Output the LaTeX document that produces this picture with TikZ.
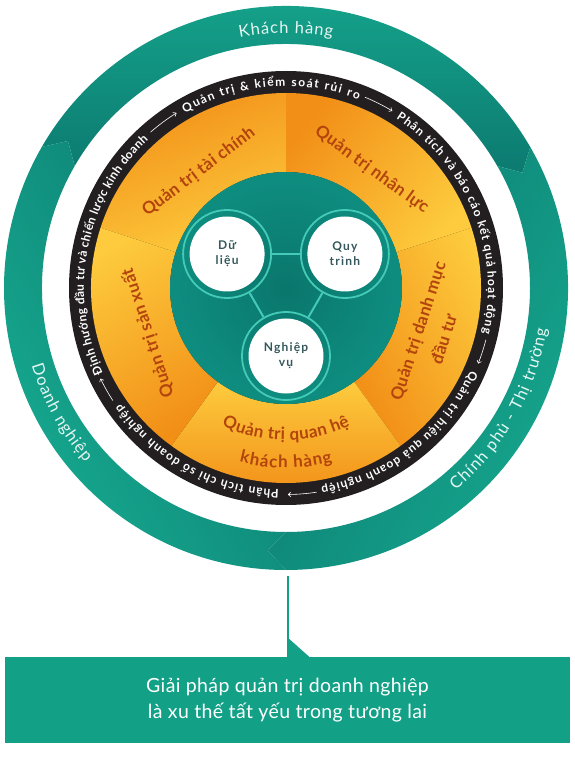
\documentclass[tikz,border=0pt]{standalone}
\usepackage{fontspec}
\setmainfont{Lato}
\usetikzlibrary{decorations.text,arrows.meta}
\definecolor{tealL}{HTML}{16A98F}
\definecolor{tealD}{HTML}{0C7A70}
\definecolor{ringBlack}{HTML}{231F20}
\definecolor{orD}{HTML}{F28F17}
\definecolor{orL}{HTML}{FDCB3D}
\definecolor{secText}{HTML}{B3440E}
\definecolor{diskC}{HTML}{0A766C}
\definecolor{diskM}{HTML}{0E8B7E}
\definecolor{diskE}{HTML}{13A08D}
\definecolor{circLine}{HTML}{44CAB7}
\definecolor{circText}{HTML}{34585B}
\definecolor{boxTeal}{HTML}{12A086}
\definecolor{ringText}{HTML}{E4F6F2}
\pgfdeclareradialshading{diskshade}{\pgfpoint{0bp}{0bp}}{color(0bp)=(diskC); color(22bp)=(diskM); color(50bp)=(diskE)}
\begin{document}
\begin{tikzpicture}[x=1pt,y=1pt,
  outerlbl/.style={decorate,decoration={text along path,text align=fit to path,
     text={|\fontsize{16.5}{16.5}\selectfont\color{ringText}|#1}}},
  blacklbl/.style={decorate,decoration={text along path,text align=fit to path,
     text={|\fontsize{12}{12}\selectfont\bfseries\color{white}|#1}}},
  seclbl/.style={decorate,decoration={text along path,text align=fit to path,
     text={|\fontsize{17}{17}\selectfont\bfseries\color{secText}|#1}}},
  secnode/.style={text=secText,font=\fontsize{17}{27}\selectfont\bfseries\addfontfeature{LetterSpace=2},align=center,inner sep=0pt},
  ringarrow/.style={draw=white,line width=0.6pt,-{Straight Barb[length=2.6pt,width=4.6pt]}},
  outring/.style={circle,draw=circLine,line width=1.8pt,minimum size=88pt,inner sep=0pt},
  whitecirc/.style={circle,fill=white,minimum size=75pt,inner sep=0pt,text=circText,font=\fontsize{12}{15}\selectfont\bfseries\addfontfeature{LetterSpace=10},align=center},
  conn/.style={draw=circLine,line width=2pt},
  boxstyle/.style={fill=boxTeal,minimum width=565pt,minimum height=86pt,text=white,font=\fontsize{19.5}{26}\selectfont\addfontfeature{LetterSpace=2},align=center,inner sep=0pt},
  stem/.style={draw=boxTeal,line width=2pt}
]
\useasboundingbox (-286,-469) rectangle (289,288);
\fill[white] (-286,-469) rectangle (289,288);

% ---- outer teal ring: three arrow segments ----
\shade[left color=tealL,right color=tealD,shading angle=0]
 (150:282) arc[start angle=150,end angle=30,radius=282] -- (26:263) -- (30:244)
 arc[start angle=30,end angle=150,radius=244] -- (146:263) -- cycle;
\shade[left color=tealL,right color=tealD,shading angle=242]
 (30:282) arc[start angle=30,end angle=-90,radius=282] -- (-94:263) -- (-90:244)
 arc[start angle=-90,end angle=30,radius=244] -- (26:263) -- cycle;
\shade[left color=tealL,right color=tealD,shading angle=120]
 (-90:282) arc[start angle=-90,end angle=-210,radius=282] -- (-214:263) -- (-210:244)
 arc[start angle=-210,end angle=-90,radius=244] -- (-94:263) -- cycle;

\path[outerlbl={Khách hàng}] (100.5:255) arc[start angle=100.5,end angle=79.5,radius=255];
\path[outerlbl={Chính phủ - Thị trường}] (-50:264) arc[start angle=-50,end angle=-9,radius=264];
\path[outerlbl={Doanh nghiệp}] (197:266) arc[start angle=197,end angle=221,radius=266];

% ---- black ring ----
\fill[ringBlack] (0,0) circle (217);
\path[blacklbl={Quản trị {\&} kiểm soát rủi ro}] (120:202) arc[start angle=120,end angle=69,radius=202];
\path[blacklbl={Phân tích và báo cáo kết quả hoạt động}] (57:202) arc[start angle=57,end angle=-13,radius=202];
\path[blacklbl={Quản trị hiệu quả doanh nghiệp}] (-24:202) arc[start angle=-24,end angle=-80,radius=202];
\path[blacklbl={Phân tích chỉ số doanh nghiệp}] (-92:202) arc[start angle=-92,end angle=-145,radius=202];
\path[blacklbl={Định hướng đầu tư và chiến lược kinh doanh}] (205:202) arc[start angle=205,end angle=133,radius=202];
\draw[ringarrow] (131:206.5) arc[start angle=131,end angle=122,radius=206.5];
\draw[ringarrow] (67.5:206.5) arc[start angle=67.5,end angle=59,radius=206.5];
\draw[ringarrow] (-14.5:206.5) arc[start angle=-14.5,end angle=-21.5,radius=206.5];
\draw[ringarrow] (-81.5:206.5) arc[start angle=-81.5,end angle=-89.5,radius=206.5];
\draw[ringarrow] (213:206.5) arc[start angle=213,end angle=206,radius=206.5];

% ---- orange sectors ----
\shade[left color=orD,right color=orL,shading angle=20]
 (90:116) arc[start angle=90,end angle=162,radius=116] -- (162:195) arc[start angle=162,end angle=90,radius=195] -- cycle;
\shade[left color=orD,right color=orL,shading angle=50]
 (18:116) arc[start angle=18,end angle=90,radius=116] -- (90:195) arc[start angle=90,end angle=18,radius=195] -- cycle;
\shade[left color=orL,right color=orD,shading angle=-60]
 (-54:116) arc[start angle=-54,end angle=18,radius=116] -- (18:195) arc[start angle=18,end angle=-54,radius=195] -- cycle;
\shade[left color=orL,right color=orD,shading angle=0]
 (-126:116) arc[start angle=-126,end angle=-54,radius=116] -- (-54:195) arc[start angle=-54,end angle=-126,radius=195] -- cycle;
\shade[left color=orL,right color=orD,shading angle=30]
 (162:116) arc[start angle=162,end angle=234,radius=116] -- (234:195) arc[start angle=234,end angle=162,radius=195] -- cycle;

\node[secnode,rotate=37] (taichinh) at (127:145) {Quản trị tài chính};
\node[secnode,rotate=-36] (nhanluc) at (54:146) {Quản trị nhân lực};
\node[secnode,rotate=108] (sanxuat) at (198:145) {Quản trị sản xuất};
\node[secnode,rotate=72] (danhmuc) at (-18:152) {Quản trị danh mục\\đầu tư};
\path[seclbl={Quản trị quan hệ}] (245:152) arc[start angle=245,end angle=295,radius=152];
\path[seclbl={khách hàng}] (255:180) arc[start angle=255,end angle=285,radius=180];

% ---- inner disk ----
\shade[shading=diskshade] (0,0) circle (116);
\node[outring] (dl) at (150:68) {};
\node[outring] (qt) at (30:68) {};
\node[outring] (nv) at (270:68) {};
\draw[conn] (dl) -- (qt);
\draw[conn] (dl) -- (nv);
\draw[conn] (qt) -- (nv);
\node[whitecirc] (dlt) at (dl) {Dữ\\liệu};
\node[whitecirc] (qtt) at (qt) {Quy\\trình};
\node[whitecirc] (nvt) at (nv) {Nghiệp\\vụ};

% ---- bottom box ----
\node[boxstyle] (box) at (1.5,-412) {Giải pháp quản trị doanh nghiệp\\là xu thế tất yếu trong tương lai};
\coordinate (ringbot) at (2,-288);
\draw[stem] (ringbot) -- (ringbot |- box.north);
\fill[boxTeal] (1,-349) -- (1,-369.5) -- (24,-369.5) -- cycle;
\end{tikzpicture}
\end{document}
